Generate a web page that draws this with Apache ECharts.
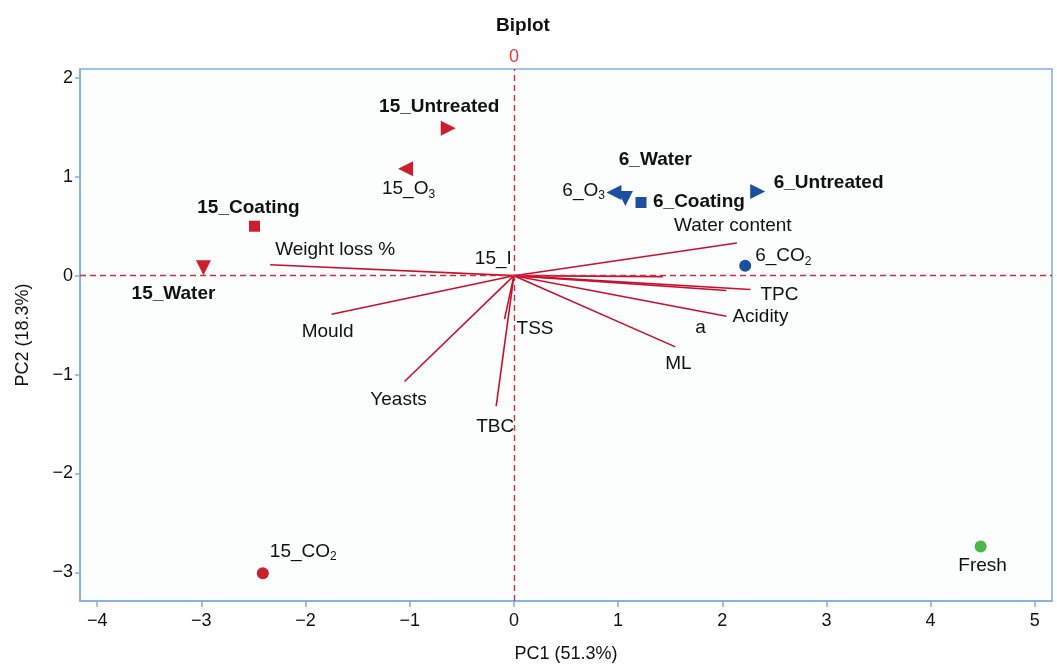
<!DOCTYPE html>
<html>
<head>
<meta charset="utf-8">
<script src="https://cdn.jsdelivr.net/npm/echarts@6/dist/echarts.min.js"></script>
<style>
  html, body { margin: 0; padding: 0; background: #ffffff; }
  #chart { width: 1057px; height: 668px; }
</style>
</head>
<body>
<div id="chart"></div>
<script>
// PCA scores (samples)
const scoreNames = ['15_Untreated', '15_O3', '15_Coating', '15_Water', '15_CO2',
                    '6_Water', '6_O3', '6_Coating', '6_Untreated', '6_CO2', 'Fresh'];
const scorePC1 = [-0.63, -1.04, -2.49, -2.98, -2.41, 1.07, 0.96, 1.22, 2.34, 2.22, 4.48];
const scorePC2 = [1.49, 1.08, 0.50, 0.08, -3.01, 0.78, 0.84, 0.74, 0.85, 0.10, -2.74];

// PCA loadings (variables), drawn as vectors from the origin
const loadingNames = ['Weight loss %', 'Water content', 'TPC', 'a', 'Acidity', 'ML', '',
                      'Mould', 'Yeasts', 'TBC', 'TSS'];
const loadingPC1 = [-2.34, 2.14, 2.27, 2.04, 2.04, 1.55, 1.43, -1.75, -1.05, -0.17, -0.09];
const loadingPC2 = [0.11, 0.33, -0.14, -0.15, -0.41, -0.72, -0.01, -0.39, -1.07, -1.32, -0.44];

// partially hidden label near the origin
const extraLabels = ['15_I'];
const extraPC1 = [-0.02];
const extraPC2 = [0.17];

const titleText = 'Biplot';
const xName = 'PC1 (51.3%)';
const yName = 'PC2 (18.3%)';

// ---- styling ----
const RED = '#cc1e2c', BLUE = '#1d4f9f', GREEN = '#4cb748';
const VEC = '#c8102e';
const FRAME = '#80aee4';
const TXT = '#111111';

const scoreStyle = {
  '15_Untreated': { symbol: 'triangle', rot: -90, size: 15, color: RED, bold: true, align: 'center', off: [-9, -22] },
  '15_O3':        { symbol: 'triangle', rot: 90,  size: 15, color: RED, bold: false, align: 'center', off: [3, 20] },
  '15_Coating':   { symbol: 'rect',     rot: 0,   size: 11, color: RED, bold: true, align: 'center', off: [-6, -18] },
  '15_Water':     { symbol: 'triangle', rot: 180, size: 15, color: RED, bold: true, align: 'center', off: [-30, 26] },
  '15_CO2':       { symbol: 'circle',   rot: 0,   size: 12, color: RED, bold: false, align: 'left', off: [7, -22] },
  '6_Water':      { symbol: 'triangle', rot: 180, size: 15, color: BLUE, bold: true, align: 'center', off: [30, -39] },
  '6_O3':         { symbol: 'triangle', rot: 90,  size: 15, color: BLUE, bold: false, align: 'right', off: [-9, -2] },
  '6_Coating':    { symbol: 'rect',     rot: 0,   size: 11, color: BLUE, bold: true, align: 'left', off: [12, -1] },
  '6_Untreated':  { symbol: 'triangle', rot: -90, size: 15, color: BLUE, bold: true, align: 'left', off: [16, -9] },
  '6_CO2':        { symbol: 'circle',   rot: 0,   size: 12, color: BLUE, bold: false, align: 'left', off: [10, -10] },
  'Fresh':        { symbol: 'circle',   rot: 0,   size: 12, color: GREEN, bold: false, align: 'center', off: [2, 19] }
};

const loadingLabelStyle = {
  'Weight loss %': { align: 'left', off: [5, -15] },
  'Water content': { align: 'center', off: [-4, -17] },
  'TPC':           { align: 'left', off: [10, 5] },
  'a':             { align: 'center', off: [-26, 37] },
  'Acidity':       { align: 'left', off: [6, 1] },
  'ML':            { align: 'center', off: [3, 17] },
  'Mould':         { align: 'center', off: [-4, 18] },
  'Yeasts':        { align: 'center', off: [-6, 18] },
  'TBC':           { align: 'center', off: [-1, 21] },
  'TSS':           { align: 'left', off: [12, 10] }
};

const FONT = 'Arial, "Liberation Sans", sans-serif';
const richSub = {
  s: { fontSize: 12, fontFamily: FONT, color: TXT, padding: [11, 0, 0, 0] }
};
function withSub(name) {
  return name.replace(/(O|CO)(\d)$/, '$1{s|$2}');
}

const scoreData = scoreNames.map((n, i) => {
  const st = scoreStyle[n];
  return {
    name: n,
    value: [scorePC1[i], scorePC2[i]],
    symbol: st.symbol,
    symbolSize: st.size,
    symbolRotate: st.rot,
    itemStyle: { color: st.color, opacity: 1 },
    label: {
      show: true,
      position: 'inside',
      align: st.align,
      verticalAlign: 'middle',
      offset: st.off,
      formatter: withSub(n),
      color: TXT,
      fontSize: 19,
      fontFamily: FONT,
      fontWeight: st.bold ? 'bold' : 'normal',
      rich: richSub
    }
  };
});

const vectorData = loadingNames.map((n, i) => ({
  coords: [[0, 0], [loadingPC1[i], loadingPC2[i]]]
}));

const loadingLabelData = loadingNames.map((n, i) => {
  const st = loadingLabelStyle[n];
  return {
    name: n,
    value: [loadingPC1[i], loadingPC2[i]],
    itemStyle: { opacity: 1 },
    label: st ? {
      show: true, position: 'inside', align: st.align, verticalAlign: 'middle',
      offset: st.off, formatter: n, color: TXT, fontSize: 19, fontFamily: FONT
    } : { show: false }
  };
});

const extraData = extraLabels.map((n, i) => ({
  name: n,
  value: [extraPC1[i], extraPC2[i]],
  itemStyle: { opacity: 1 },
  label: {
    show: true, position: 'inside', align: 'right', verticalAlign: 'middle',
    offset: [0, 0], formatter: n, color: TXT, fontSize: 19, fontFamily: FONT
  }
}));

const minus = v => String(v).replace('-', '\u2212');

const chart = echarts.init(document.getElementById('chart'), null, { renderer: 'canvas' });
chart.setOption({
  animation: false,
  backgroundColor: '#ffffff',
  title: {
    text: titleText,
    left: 518,
    top: 11,
    textAlign: 'center',
    textStyle: { fontSize: 19, fontWeight: 'bold', color: TXT, fontFamily: FONT }
  },
  grid: {
    left: 80, right: 5, top: 69, bottom: 61,
    show: true,
    backgroundColor: '#fcfdfd',
    borderColor: FRAME,
    borderWidth: 1.5
  },
  xAxis: {
    type: 'value',
    min: -4.165, max: 5.165,
    splitNumber: 9,
    name: xName,
    nameLocation: 'middle',
    nameGap: 44,
    nameTextStyle: { fontSize: 18, color: TXT, fontFamily: FONT },
    axisLine: { show: true, onZero: false, lineStyle: { color: FRAME, width: 1.5 } },
    axisTick: { show: true, length: 6, lineStyle: { color: FRAME, width: 1.5 } },
    axisLabel: {
      fontSize: 18, color: TXT, fontFamily: FONT, margin: 11,
      showMinLabel: false, showMaxLabel: false,
      formatter: minus
    },
    splitLine: { show: false }
  },
  yAxis: {
    type: 'value',
    min: -3.29, max: 2.09,
    splitNumber: 5,
    name: yName,
    nameLocation: 'middle',
    nameGap: 48,
    nameTextStyle: { fontSize: 18, color: TXT, fontFamily: FONT },
    axisLine: { show: true, onZero: false, lineStyle: { color: FRAME, width: 1.5 } },
    axisTick: { show: true, length: 5, lineStyle: { color: FRAME, width: 1.5 } },
    axisLabel: {
      fontSize: 18, color: TXT, fontFamily: FONT, margin: 7,
      showMinLabel: false, showMaxLabel: false,
      formatter: minus
    },
    splitLine: { show: false }
  },
  series: [
    {
      // zero reference lines
      type: 'scatter',
      data: [],
      silent: true,
      markLine: {
        silent: true,
        symbol: ['none', 'none'],
        animation: false,
        lineStyle: { color: '#d0303c', type: [6, 4], width: 1.4, opacity: 1 },
        data: [
          { xAxis: 0, label: { show: true, position: 'end', formatter: '0', color: '#e8323c', fontSize: 18, fontFamily: FONT, distance: 3 } },
          { yAxis: 0, label: { show: false } }
        ]
      },
      z: 1
    },
    {
      // loading vectors
      type: 'lines',
      coordinateSystem: 'cartesian2d',
      polyline: false,
      silent: true,
      lineStyle: { color: VEC, width: 1.6, opacity: 1 },
      data: vectorData,
      z: 2
    },
    {
      type: 'scatter',
      symbolSize: 0,
      silent: true,
      data: loadingLabelData,
      z: 3
    },
    {
      type: 'scatter',
      symbolSize: 0,
      silent: true,
      data: extraData,
      z: 3
    },
    {
      type: 'scatter',
      silent: true,
      data: scoreData,
      z: 4
    }
  ]
});
</script>
</body>
</html>
